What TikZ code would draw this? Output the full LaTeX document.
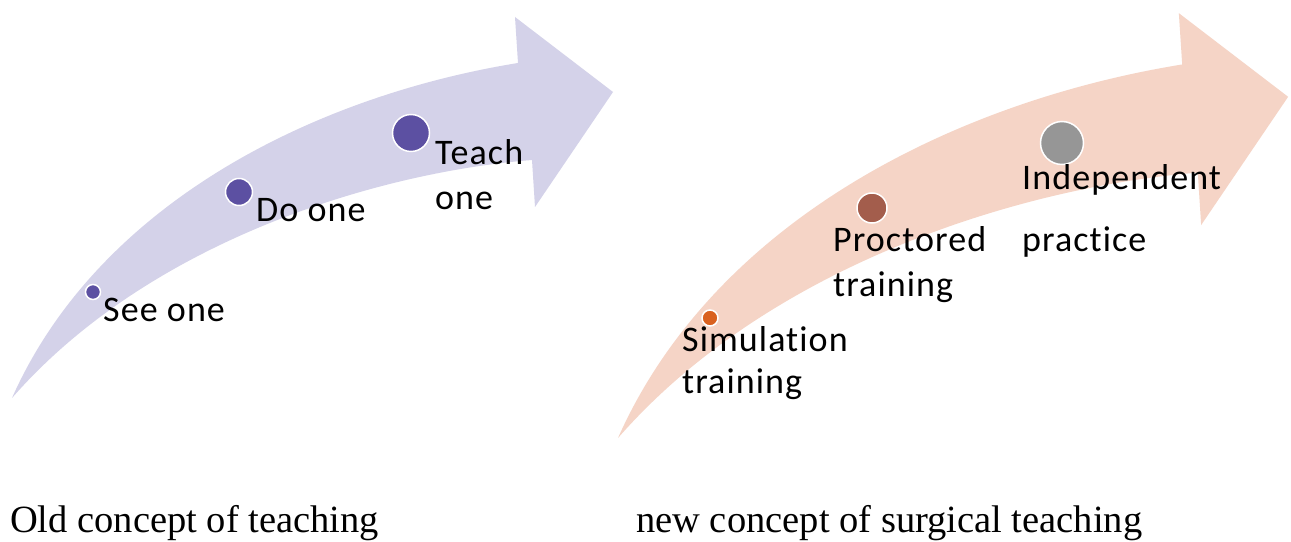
\documentclass[tikz,border=0pt]{standalone}
\usepackage{fontspec}
\setmainfont{Liberation Serif}
\newfontfamily\lab[LetterSpace=3,Ligatures={NoCommon}]{Carlito}
\definecolor{lavfill}{HTML}{D4D2E9}
\definecolor{peachfill}{HTML}{F5D4C6}
\definecolor{dotpurple}{HTML}{5C50A2}
\definecolor{dotorange}{HTML}{D9611F}
\definecolor{dotbrown}{HTML}{A35D4C}
\definecolor{dotgray}{HTML}{969696}
\tikzset{
  pics/bentarrow/.style={code={
    \fill[#1] (0,0) .. controls (88,-198) and (308,-303) .. (506,-335)
      -- (503,-381) -- (601,-306) -- (523,-191) -- (520,-238)
      .. controls (368,-226) and (138,-158) .. (0,0) -- cycle;
  }},
  stepdot/.style={circle, draw=white, line width=1.5bp, inner sep=0pt},
  lbl/.style={font=\lab\fontsize{36bp}{45bp}\selectfont, inner sep=0pt, anchor=base west, text=black},
  caption/.style={font=\fontsize{38.5bp}{46bp}\selectfont, inner sep=0pt, anchor=base west, text=black}
}
\begin{document}
\begin{tikzpicture}[x=1bp, y=-1bp]
\useasboundingbox (0,0) rectangle (1291,542);
\fill[white] (0,0) rectangle (1291,542);
% arrows
\pic at (12,398) {bentarrow=lavfill};
\pic[scale=1.115] at (618,438) {bentarrow=peachfill};
% left dots
\node[stepdot, fill=dotpurple, minimum size=15bp] (d1) at (93,292) {};
\node[stepdot, fill=dotpurple, minimum size=27bp] (d2) at (239,192) {};
\node[stepdot, fill=dotpurple, minimum size=37bp] (d3) at (411,133) {};
% right dots
\node[stepdot, fill=dotorange, minimum size=16bp] (e1) at (710,318) {};
\node[stepdot, fill=dotbrown, minimum size=30bp] (e2) at (872,208) {};
\node[stepdot, fill=dotgray, minimum size=43bp] (e3) at (1062,143) {};
% left labels
\node[lbl] (l1) at (103,322) {See one};
\node[lbl] (l2) at (256,222) {Do one};
\node[lbl] (l3a) at (435,165) {Teach};
\node[lbl] (l3b) at (435,210) {one};
% right labels
\node[lbl] (r1a) at (682,352) {Simulation};
\node[lbl] (r1b) at (682,393) {training};
\node[lbl] (r2a) at (833,252) {Proctored};
\node[lbl] (r2b) at (833,297) {training};
\node[lbl] (r3a) at (1022,190) {Independent};
\node[lbl] (r3b) at (1022,252) {practice};
% captions
\node[caption] (c1) at (10,532) {Old concept of teaching};
\node[caption] (c2) at (636,532) {new concept of surgical teaching};
\end{tikzpicture}
\end{document}
